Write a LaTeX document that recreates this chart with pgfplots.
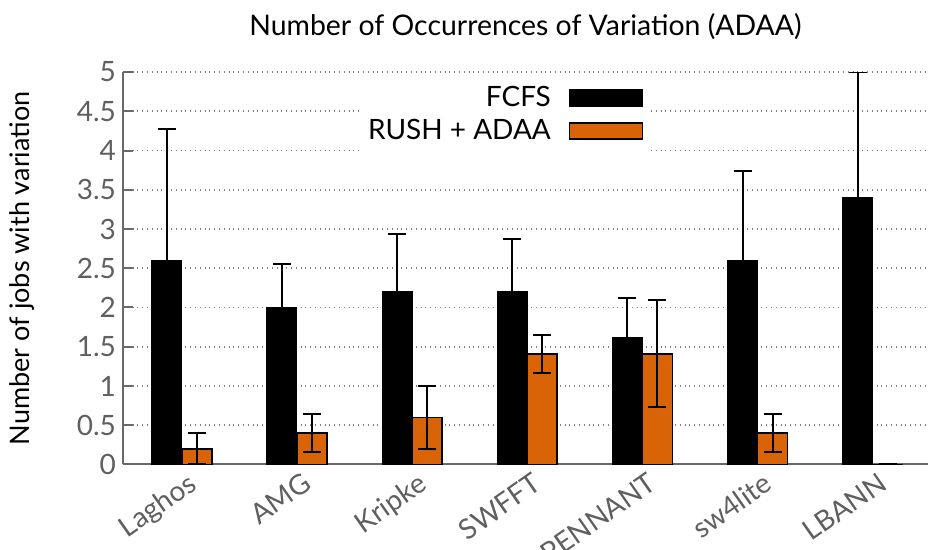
\documentclass[border=0pt]{standalone}
\usepackage{pgfplots}
\pgfplotsset{compat=1.18}
\usepackage{pgfplotstable}
\usepackage{fontspec}
\setmainfont{Lato}
\definecolor{rushorange}{RGB}{217,100,8}
\definecolor{axgray}{RGB}{105,105,105}
\definecolor{txtgray}{RGB}{95,95,95}
\pgfplotstableread{
x f fe r re
0 2.6 1.68 0.2 0.2
1 2.0 0.55 0.4 0.245
2 2.2 0.74 0.6 0.4
3 2.2 0.67 1.41 0.245
4 1.62 0.5 1.41 0.68
5 2.6 1.14 0.4 0.245
6 3.4 1.6 0.0 0.0
}\datatable
\begin{document}
\begin{tikzpicture}
\begin{axis}[
  name=ax,
  scale only axis, width=402.5pt, height=196.25pt,
  ybar, bar width=15pt,
  xmin=-0.51, xmax=6.48, ymin=0, ymax=5,
  ytick={0,0.5,1,1.5,2,2.5,3,3.5,4,4.5,5},
  yticklabels={0,0.5,1,1.5,2,2.5,3,3.5,4,4.5,5},
  xtick={0,...,6},
  xticklabels={Laghos,AMG,Kripke,SWFFT,PENNANT,sw4lite,LBANN},
  x tick label style={rotate=35, anchor=north east, text=txtgray, font=\fontsize{14}{14}\selectfont, inner sep=2pt, xshift=2pt, yshift=-2pt},
  y tick label style={text=txtgray, font=\fontsize{14}{14}\selectfont},
  axis x line*=bottom, axis y line*=left,
  axis line style={axgray, line width=1pt, -},
  major tick length=5pt,
  xtick style={draw=none},
  ytick style={axgray, line width=1pt},
  tick align=inside,
  ymajorgrids, grid style={dotted, gray, line width=0.8pt},
  title={Number of Occurrences of Variation (ADAA)},
  title style={at={(axis description cs:0.5,1)}, anchor=center, yshift=16.5pt, font=\fontsize{14.2}{15}\selectfont},
  ylabel={Number of jobs with variation},
  ylabel style={at={(axis description cs:-0.1255,0.5)}, anchor=center, font=\fontsize{13.5}{14}\selectfont},
  legend style={at={(axis description cs:0.652,0.985)}, anchor=north east, draw=none, fill=white, font=\fontsize{14}{14}\selectfont, row sep=1pt, inner sep=2pt},
  legend cell align=right,
  legend plot pos=right,
  legend image code/.code={\path (0pt,0pt); \draw[#1, draw=black, line width=0.8pt] (7pt,-4pt) rectangle (43.5pt,4pt);},
]
\addplot[fill=black, draw=black, bar shift=-7.5pt,
  error bars/.cd, y dir=both, y explicit,
  error bar style={line width=1pt, black},
  error mark options={rotate=90, mark size=4.5pt, line width=1pt, black}]
  table[x=x, y=f, y error=fe] {\datatable};
\addlegendentry{FCFS}
\addplot[fill=rushorange, draw=black, line width=0.8pt, bar shift=7.5pt,
  error bars/.cd, y dir=both, y explicit,
  error bar style={line width=1pt, black},
  error mark options={rotate=90, mark size=4.5pt, line width=1pt, black}]
  table[x=x, y=r, y error=re] {\datatable};
\addlegendentry{RUSH + ADAA}
\end{axis}
\pgfresetboundingbox
\path[use as bounding box] ([xshift=-61.5pt,yshift=-42.75pt]ax.south west) rectangle ([yshift=36pt]ax.north east);
\end{tikzpicture}
\end{document}
